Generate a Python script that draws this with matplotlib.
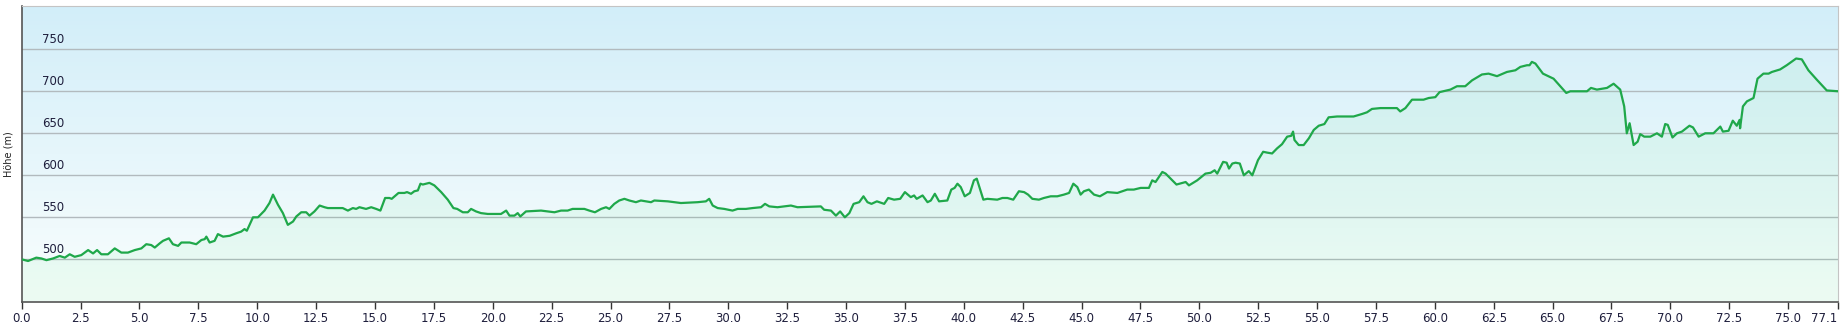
import numpy as np
import matplotlib
matplotlib.use("Agg")
from matplotlib import pyplot as plt

# elevation profile (km, m)
dist_km = [
    0.0, 0.27, 0.62, 0.84, 1.05, 1.33, 1.61, 1.83, 2.04, 2.25, 2.53, 2.82, 3.03, 3.2, 3.38,
    3.66, 3.95, 4.23, 4.51, 4.8, 5.08, 5.29, 5.5, 5.65, 5.86, 6.0, 6.25, 6.42, 6.64, 6.78,
    7.13, 7.41, 7.63, 7.77, 7.84, 7.98, 8.19, 8.33, 8.55, 8.83, 9.11, 9.32, 9.46, 9.56, 9.82,
    10.03, 10.31, 10.52, 10.67, 10.88, 11.09, 11.3, 11.52, 11.66, 11.87, 12.08, 12.22, 12.43,
    12.65, 12.86, 13.0, 13.63, 13.85, 14.06, 14.2, 14.34, 14.62, 14.84, 15.05, 15.23, 15.43,
    15.61, 15.71, 16.0, 16.25, 16.36, 16.53, 16.67, 16.82, 16.93, 17.03, 17.31, 17.52, 17.81,
    18.09, 18.33, 18.49, 18.73, 18.94, 19.08, 19.29, 19.5, 19.79, 20.35, 20.57, 20.71, 20.92,
    21.06, 21.17, 21.41, 22.05, 22.62, 22.9, 23.18, 23.39, 23.68, 23.89, 24.1, 24.34, 24.6,
    24.81, 24.95, 25.16, 25.37, 25.59, 25.8, 26.08, 26.29, 26.72, 26.86, 27.43, 27.99, 28.7,
    29.05, 29.19, 29.34, 29.55, 29.83, 30.18, 30.4, 30.75, 31.03, 31.39, 31.56, 31.74, 32.09,
    32.38, 32.66, 32.94, 33.93, 34.07, 34.36, 34.57, 34.75, 34.95, 35.14, 35.32, 35.56, 35.74,
    35.91, 36.08, 36.31, 36.62, 36.79, 37.04, 37.3, 37.5, 37.75, 37.89, 38.0, 38.25, 38.46,
    38.6, 38.77, 38.95, 39.3, 39.47, 39.61, 39.73, 39.87, 40.04, 40.26, 40.43, 40.55, 40.65,
    40.83, 41.0, 41.42, 41.64, 41.85, 42.1, 42.34, 42.56, 42.73, 42.91, 43.19, 43.4, 43.69,
    43.97, 44.25, 44.47, 44.65, 44.82, 44.96, 45.1, 45.31, 45.53, 45.78, 46.09, 46.52, 46.94,
    47.22, 47.51, 47.86, 48.0, 48.14, 48.43, 48.57, 48.71, 49.03, 49.42, 49.56, 49.91, 50.26,
    50.48, 50.65, 50.76, 51.01, 51.16, 51.26, 51.4, 51.54, 51.72, 51.89, 52.1, 52.25, 52.49,
    52.71, 52.88, 53.09, 53.3, 53.51, 53.73, 53.9, 53.98, 54.04, 54.22, 54.43, 54.65, 54.86,
    55.07, 55.31, 55.49, 55.85, 56.55, 56.91, 57.12, 57.33, 57.69, 58.39, 58.53, 58.75, 59.03,
    59.52, 59.74, 60.02, 60.2, 60.66, 60.94, 61.29, 61.58, 62.0, 62.28, 62.64, 63.06, 63.42,
    63.63, 63.91, 64.02, 64.12, 64.27, 64.59, 65.04, 65.58, 65.75, 66.46, 66.63, 66.88, 67.31,
    67.59, 67.87, 68.04, 68.15, 68.27, 68.44, 68.61, 68.72, 68.89, 69.15, 69.43, 69.64, 69.78,
    69.89, 70.09, 70.28, 70.49, 70.81, 70.96, 71.2, 71.48, 71.83, 72.12, 72.23, 72.47, 72.65,
    72.82, 72.94, 72.96, 73.08, 73.25, 73.53, 73.7, 73.95, 74.17, 74.31, 74.66, 74.94, 75.34,
    75.58, 75.86, 76.21, 76.64, 77.13,
]
height_m = [
    500, 498, 502, 501, 499, 501, 504, 502, 506, 503, 505, 511, 507, 511, 506,
    506, 513, 508, 508, 511, 513, 518, 517, 514, 519, 522, 525, 518, 516, 520,
    520, 518, 523, 524, 527, 520, 522, 530, 527, 528, 531, 533, 536, 534, 550,
    550, 558, 567, 577, 565, 555, 541, 545, 551, 556, 556, 552, 557,
    564, 562, 561, 561, 558, 561, 560, 562, 560, 562, 560, 558, 573,
    573, 572, 579, 579, 580, 578, 581, 582, 590, 589, 591, 588, 580,
    571, 561, 560, 556, 556, 560, 557, 555, 554, 554, 558, 552, 552,
    555, 551, 557, 558, 556, 558, 558, 560, 560, 560, 558, 556, 560,
    562, 560, 566, 570, 572, 570, 568, 570, 568, 570, 569, 567, 568,
    569, 572, 564, 561, 560, 558, 560, 560, 561, 562, 566, 563, 562,
    563, 564, 562, 563, 559, 558, 552, 557, 550, 555, 566, 568, 575,
    568, 566, 569, 566, 573, 571, 572, 580, 574, 576, 572, 576, 568,
    570, 578, 569, 570, 583, 585, 590, 586, 575, 579, 594, 596, 587,
    571, 572, 571, 573, 573, 571, 581, 580, 577, 572, 571, 573, 575,
    575, 577, 579, 590, 586, 577, 581, 583, 577, 575, 580, 579, 583,
    583, 585, 585, 594, 592, 604, 602, 598, 589, 592, 588, 594, 602,
    603, 606, 602, 616, 615, 608, 614, 615, 614, 600, 605, 600, 618,
    628, 627, 626, 632, 637, 646, 647, 652, 642, 636, 636, 644, 654,
    659, 661, 669, 670, 670, 673, 675, 679, 680, 680, 676, 680, 690,
    690, 692, 693, 699, 702, 706, 706, 713, 720, 721, 718, 723, 725,
    729, 731, 731, 735, 733, 721, 715, 698, 700, 700, 704, 702, 704,
    709, 702, 682, 650, 662, 636, 640, 649, 646, 646, 650, 646, 661,
    660, 645, 650, 652, 659, 657, 646, 650, 650, 658, 652, 653, 665,
    659, 666, 656, 682, 688, 692, 715, 721, 721, 723, 726, 731, 739,
    738, 725, 714, 701, 700,
]
x_ticks = [0.0, 2.5, 5.0, 7.5, 10.0, 12.5, 15.0, 17.5, 20.0, 22.5, 25.0, 27.5, 30.0, 32.5,
           35.0, 37.5, 40.0, 42.5, 45.0, 47.5, 50.0, 52.5, 55.0, 57.5, 60.0, 62.5, 65.0,
           67.5, 70.0, 72.5, 75.0, 77.1]
y_ticks = [500, 550, 600, 650, 700, 750]

x_max = 77.13
y_min, y_max = 449.2, 801.5

fig = plt.figure(figsize=(18.42, 3.26), dpi=100)
fig.patch.set_facecolor("white")
ax = fig.add_axes([21.7 / 1842, 1 - 302 / 326, (1838.3 - 21.7) / 1842, 296 / 326])

# background gradient: light blue on top, nearly white at the bottom
top = np.array([210, 238, 249]) / 255
bot = np.array([250, 254, 253]) / 255
t = np.linspace(0, 1, 256)[:, None]
grad = (top * (1 - t) + bot * t)[:, None, :]
ax.imshow(grad, extent=[0, x_max, y_min, y_max], aspect="auto", zorder=0,
          interpolation="bilinear")

for yv in y_ticks:
    ax.axhline(yv, color="#b2babe", lw=1.0, zorder=1)
    ax.text(0.85, yv + 4, str(yv), fontsize=8.5, color="#1e1e3c", zorder=4,
            va="bottom", ha="left")

ax.fill_between(dist_km, height_m, y_min, color="#40e070", alpha=0.07, lw=0, zorder=2)
ax.plot(dist_km, height_m, color="#1fa84a", lw=1.6, zorder=3)

ax.set_xlim(0, x_max)
ax.set_ylim(y_min, y_max)
ax.set_xticks(x_ticks)
ax.set_xticklabels(["%.1f" % v for v in x_ticks])
ax.get_xticklabels()[-1].set_ha("right")
ax.set_yticks([])
ax.tick_params(axis="x", length=5, width=1, color="#333333", labelsize=8.5,
               labelcolor="#1e1e3c", pad=2)
ax.set_ylabel("Höhe (m)", fontsize=7, color="#222222", labelpad=6)

ax.spines["left"].set_color("#555555")
ax.spines["bottom"].set_color("#555555")
ax.spines["left"].set_linewidth(1.2)
ax.spines["bottom"].set_linewidth(1.2)
ax.spines["top"].set_color("#c4c4c4")
ax.spines["right"].set_color("#c4c4c4")

fig.savefig("out.png", dpi=100)
